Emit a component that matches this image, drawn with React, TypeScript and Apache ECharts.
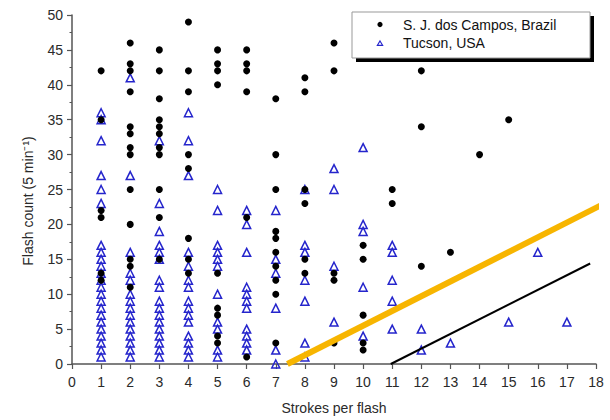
import React, { useEffect, useRef } from "react";
import * as echarts from "echarts";

// Flash counts (5 min^-1) observed for each strokes-per-flash value
const sjcColumns: [number, number[]][] = [
  [1, [42, 35, 22, 21, 13, 12]],
  [2, [46, 43, 42, 39, 34, 33, 31, 30, 25, 20, 15, 14, 11]],
  [3, [45, 42, 38, 35, 34, 33, 31, 30, 25, 21, 15]],
  [4, [49, 42, 39, 30, 28, 18, 15, 13]],
  [5, [45, 43, 42, 40, 13, 8, 7, 4, 3]],
  [6, [45, 43, 42, 39, 21, 1]],
  [7, [38, 30, 25, 19, 18, 16, 14, 12, 10, 3]],
  [8, [41, 39, 25, 23, 15, 13]],
  [9, [46, 42, 13, 12, 3]],
  [10, [17, 15, 7, 3, 2]],
  [11, [25, 23]],
  [12, [42, 34, 14]],
  [13, [16]],
  [14, [30]],
  [15, [35]],
];

const tucsonColumns: [number, number[]][] = [
  [1, [36, 35, 32, 27, 25, 23, 17, 16, 15, 14, 13, 12, 11, 10, 9, 8, 7, 6, 5, 4, 3, 2, 1]],
  [2, [41, 27, 16, 13, 12, 10, 9, 8, 7, 6, 5, 4, 3, 2, 1]],
  [3, [32, 23, 19, 17, 16, 15, 12, 11, 9, 8, 7, 6, 5, 4, 3, 2, 1]],
  [4, [36, 32, 27, 16, 14, 12, 11, 9, 8, 7, 6, 4, 3, 2, 1]],
  [5, [25, 22, 17, 16, 15, 14, 10, 6, 5, 2, 1]],
  [6, [22, 20, 16, 11, 10, 9, 8, 5, 4, 3, 2]],
  [7, [22, 15, 13, 8, 2, 0]],
  [8, [25, 17, 16, 12, 9, 3, 1]],
  [9, [28, 25, 14, 6]],
  [10, [31, 20, 19, 11, 4]],
  [11, [17, 16, 12, 9, 5]],
  [12, [5, 2]],
  [13, [3]],
  [15, [6]],
  [16, [16]],
  [17, [6]],
];

const upperLine: [number, number][] = [
  [7.4, 0],
  [18.15, 22.7],
];
const lowerLine: [number, number][] = [
  [10.95, 0],
  [17.8, 14.4],
];

const seriesNames = ["S. J. dos Campos, Brazil", "Tucson, USA"];
const xTitle = "Strokes per flash";
const yTitle = "Flash count (5 min\u207B\u00B9)";
const xTicks = { min: 0, max: 18, interval: 1 };
const yTicks = { min: 0, max: 50, interval: 5 };

const FONT = "'Liberation Sans', Arial, Helvetica, sans-serif";

function flatten(cols: [number, number[]][]): [number, number][] {
  const out: [number, number][] = [];
  cols.forEach(([x, ys]) => ys.forEach((y) => out.push([x, y])));
  return out;
}

export default function App() {
  const ref = useRef<HTMLDivElement>(null);
  useEffect(() => {
    if (!ref.current) return;
    const chart = echarts.init(ref.current, undefined, { renderer: "svg" });
    const axisColor = "#555";
    const textColor = "#2a2a2a";
    const blue = "#2525cc";
    chart.setOption({
      animation: false,
      backgroundColor: "#fff",
      grid: { left: 72, right: 14, top: 15, bottom: 55, containLabel: false },
      xAxis: {
        type: "value",
        min: xTicks.min,
        max: xTicks.max,
        interval: xTicks.interval,
        name: xTitle,
        nameLocation: "middle",
        nameGap: 37,
        nameTextStyle: { fontFamily: FONT, fontSize: 14, color: textColor },
        axisLine: { show: true, onZero: false, lineStyle: { color: axisColor, width: 1.5 } },
        axisTick: { show: true, inside: false, length: 5, lineStyle: { color: axisColor, width: 1.2 } },
        axisLabel: { fontFamily: FONT, fontSize: 14, color: textColor, margin: 11 },
        splitLine: { show: false },
      },
      yAxis: {
        type: "value",
        min: yTicks.min,
        max: yTicks.max,
        interval: yTicks.interval,
        axisLine: { show: true, onZero: false, lineStyle: { color: axisColor, width: 1.5 } },
        axisTick: { show: true, inside: false, length: 5, lineStyle: { color: axisColor, width: 1.2 } },
        minorTick: { show: true, splitNumber: 2, length: 2.5, lineStyle: { color: axisColor, width: 1 } },
        axisLabel: { fontFamily: FONT, fontSize: 14, color: textColor, margin: 9 },
        splitLine: { show: false },
      },
      graphic: [
        {
          type: "text",
          x: 28,
          y: 201,
          rotation: Math.PI / 2,
          style: {
            text: yTitle,
            fontFamily: FONT,
            fontSize: 14,
            fill: textColor,
            align: "center",
            verticalAlign: "middle",
          },
        },
        { type: "rect", z: -1, shape: { x: 356, y: 16, width: 238, height: 46 }, style: { fill: "#000" } },
        {
          type: "rect",
          z: 0,
          shape: { x: 352, y: 12, width: 238, height: 46 },
          style: { fill: "#fff", stroke: "#999", lineWidth: 1 },
        },
        { type: "circle", z: 10, shape: { cx: 380, cy: 24.5, r: 2.6 }, style: { fill: "#000" } },
        {
          type: "polygon",
          z: 10,
          shape: { points: [[380, 41], [382.6, 45.3], [377.4, 45.3]] },
          style: { fill: "none", stroke: blue, lineWidth: 1.2 },
        },
        {
          type: "text",
          z: 10,
          x: 403,
          y: 25,
          style: { text: seriesNames[0], fontFamily: FONT, fontSize: 14, fill: "#111", verticalAlign: "middle" },
        },
        {
          type: "text",
          z: 10,
          x: 403,
          y: 43,
          style: { text: seriesNames[1], fontFamily: FONT, fontSize: 14, fill: "#111", verticalAlign: "middle" },
        },
      ],
      series: [
        {
          name: seriesNames[1],
          type: "scatter",
          z: 2,
          symbol: "triangle",
          symbolSize: 8,
          itemStyle: { color: "rgba(255,255,255,0)", borderColor: blue, borderWidth: 1.5, opacity: 1 },
          data: flatten(tucsonColumns),
        },
        {
          name: seriesNames[0],
          type: "scatter",
          z: 3,
          symbol: "circle",
          symbolSize: 7,
          itemStyle: { color: "#000", opacity: 1 },
          data: flatten(sjcColumns),
        },
        {
          name: "upper",
          type: "line",
          z: 5,
          clip: false,
          showSymbol: false,
          symbol: "none",
          lineStyle: { color: "#f7b500", width: 6 },
          data: upperLine,
        },
        {
          name: "lower",
          type: "line",
          z: 5,
          clip: false,
          showSymbol: false,
          symbol: "none",
          lineStyle: { color: "#000", width: 2 },
          data: lowerLine,
        },
      ],
    });
    return () => chart.dispose();
  }, []);
  return <div ref={ref} style={{ width: 610, height: 420, position: "absolute", left: 0, top: 0 }} />;
}
